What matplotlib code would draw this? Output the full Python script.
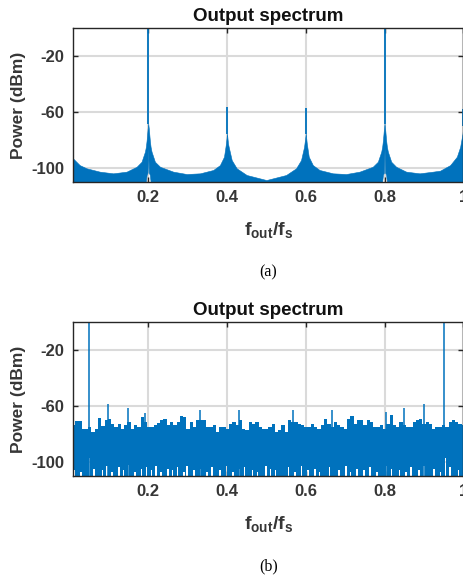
import numpy as np
import matplotlib
matplotlib.use("Agg")
import matplotlib.pyplot as plt

plt.rcParams['mathtext.fontset'] = 'custom'
plt.rcParams['mathtext.rm'] = 'Liberation Sans:bold'
plt.rcParams['mathtext.it'] = 'Liberation Sans:bold'
plt.rcParams['mathtext.bf'] = 'Liberation Sans:bold'

# ---------------- data ----------------
x_ticks = [0.2, 0.4, 0.6, 0.8, 1.0]
x_ticklabels = ['0.2', '0.4', '0.6', '0.8', '1']
y_ticks = [-100, -60, -20]
y_ticklabels = ['-100', '-60', '-20']
titles = ['Output spectrum', 'Output spectrum']
captions = ['(a)', '(b)']

# (a) leakage spectrum: envelope knots (normalized frequency, dBm)
a_freq = [0.009, 0.026, 0.0435, 0.077, 0.111, 0.145, 0.1705, 0.183, 0.1916, 0.194,
          0.196, 0.1985, 0.2, 0.2015, 0.204, 0.206, 0.2085, 0.217, 0.23, 0.2635,
          0.2976, 0.3314, 0.365, 0.382, 0.3924, 0.3974, 0.4, 0.4026, 0.4043, 0.412,
          0.4246, 0.45, 0.5, 0.55, 0.5754, 0.588, 0.5957, 0.6, 0.6026, 0.6076,
          0.618, 0.635, 0.669, 0.7024, 0.7365, 0.77, 0.783, 0.7916, 0.794, 0.796,
          0.7985, 0.8, 0.8015, 0.804, 0.806, 0.8085, 0.817, 0.8295, 0.855, 0.889,
          0.923, 0.941, 0.9666, 0.9836, 0.992, 0.998, 1.0]
a_upper = [-93.3, -98.1, -100.4, -102.8, -104.0, -102.8, -99.3, -95.7, -88.5, -85.0,
           -80.2, -72.0, -68.3, -72.0, -80.2, -85.0, -88.5, -95.7, -99.3, -102.8,
           -104.5, -104.0, -101.6, -98.1, -92.1, -82.6, -75.5, -82.6, -85.0, -94.5,
           -100.4, -105.2, -108.8, -105.2, -100.4, -94.5, -85.0, -75.5, -82.6, -92.1,
           -98.1, -101.6, -104.0, -104.5, -102.8, -99.3, -95.7, -88.5, -85.0, -80.2,
           -72.0, -68.3, -72.0, -80.2, -85.0, -88.5, -95.7, -99.3, -102.8, -104.0,
           -102.8, -102.1, -98.1, -92.1, -85.0, -75.5, -70.0]
a_lower = [-110, -110, -110, -110, -110, -110, -110, -110, -110, -110,
           -105, -103.5, -86, -103.5, -105, -110, -110, -110, -110, -110,
           -110, -110, -110, -110, -110, -110, -110, -110, -110, -110,
           -110, -110, -110, -110, -110, -110, -110, -110, -110, -110,
           -110, -110, -110, -110, -110, -110, -110, -110, -110, -105,
           -103.5, -86, -103.5, -105, -110, -110, -110, -110, -110, -110,
           -110, -110, -110, -110, -110, -110, -110]
a_tone_freq = [0.2, 0.4, 0.6, 0.8, 1.0]
a_tone_base = [-68.3, -75.5, -75.5, -68.3, -70.0]
a_tone_peak = [0.0, -56.4, -56.9, 0.0, -57.6]

# (b) noisy spectrum: noise-floor top per frequency bin (dBm)
b_noise_top = [
    -73.9, -71.0, -71.0, -76.3, -76.3, -75.1, -78.7, -76.3, -68.6, -74.4,
    -70.3, -69.1, -72.7, -75.1, -72.7, -76.3, -73.9, -71.5, -76.3, -73.4,
    -75.1, -67.9, -71.5, -75.1, -75.1, -73.4, -72.0, -70.3, -69.6, -73.9,
    -71.5, -73.9, -71.5, -67.2, -67.9, -76.3, -71.5, -75.1, -70.3, -70.3,
    -70.3, -75.1, -75.1, -73.9, -78.7, -75.1, -75.1, -76.3, -72.7, -71.5,
    -73.9, -70.3, -76.3, -77.5, -71.5, -72.7, -71.5, -75.1, -76.3, -76.3,
    -75.1, -72.7, -78.7, -77.5, -73.9, -78.7, -70.3, -71.5, -71.5, -72.7,
    -73.9, -75.1, -75.1, -72.7, -75.1, -76.3, -73.9, -69.1, -72.7, -75.1,
    -71.5, -73.9, -75.1, -76.3, -69.1, -67.2, -72.7, -70.3, -70.3, -73.9,
    -70.3, -71.5, -75.1, -75.1, -73.9, -76.3, -72.7, -66.7, -73.9, -75.1,
    -71.5, -73.9, -75.1, -75.1, -71.5, -70.3, -69.1, -72.7, -71.5, -72.7,
    -76.3, -75.1, -75.1, -73.9, -75.1, -71.5, -70.3, -71.5, -72.7, -73.9]
# gaps at the bottom of the noise floor: frequency and lowest level reached
b_gap_freq = [0.014, 0.031, 0.050, 0.064, 0.085, 0.097, 0.110, 0.126, 0.139, 0.151,
              0.167, 0.184, 0.196, 0.209, 0.222, 0.234, 0.250, 0.262, 0.275, 0.290,
              0.300, 0.316, 0.333, 0.349, 0.363, 0.382, 0.398, 0.416, 0.430, 0.445,
              0.465, 0.479, 0.499, 0.512, 0.525, 0.557, 0.573, 0.589, 0.606, 0.622,
              0.636, 0.660, 0.684, 0.700, 0.715, 0.730, 0.748, 0.763, 0.780, 0.805,
              0.818, 0.838, 0.855, 0.868, 0.887, 0.900, 0.925, 0.941, 0.953, 0.965,
              0.987]
b_gap_level = [-106, -107, -97, -105, -106, -103, -107, -104, -106, -102,
               -107, -105, -104, -106, -103, -107, -105, -106, -104, -107,
               -103, -106, -105, -107, -104, -106, -103, -107, -105, -104,
               -106, -107, -103, -105, -106, -104, -107, -103, -106, -105,
               -107, -104, -106, -103, -107, -105, -106, -104, -107, -103,
               -105, -106, -107, -104, -106, -103, -105, -107, -97, -104,
               -106]
b_spur_freq = [0.0486, 0.0984, 0.148, 0.193, 0.287, 0.331, 0.430, 0.568, 0.666,
               0.803, 0.850, 0.900, 0.9506]
b_spur_level = [0.0, -58.3, -61.2, -65.0, -67.0, -62.6, -62.6, -62.6, -62.6,
                -64.3, -61.4, -58.3, 0.0]

# ---------------- style ----------------
BLUE = '#0072BD'
AX = '#262626'
LAB = '#363636'
X_MIN, X_MAX = 0.009, 1.0
Y_MIN, Y_MAX = -110, 0
SANS = 'Liberation Sans'

fig = plt.figure(figsize=(4.64, 5.78), dpi=100)
axA = fig.add_axes([73 / 464, 1 - 181.7 / 578, 390.3 / 464, 153.4 / 578])
axB = fig.add_axes([73 / 464, 1 - 475.7 / 578, 390.3 / 464, 153.4 / 578])


def style(ax, title, caption):
    ax.set_xlim(X_MIN, X_MAX)
    ax.set_ylim(Y_MIN, Y_MAX)
    ax.set_xticks(x_ticks)
    ax.set_xticklabels(x_ticklabels)
    ax.set_yticks(y_ticks)
    ax.set_yticklabels(y_ticklabels)
    ax.grid(True, color='#dadada', linewidth=1.5)
    ax.set_axisbelow(True)
    for s in ax.spines.values():
        s.set_color(AX)
        s.set_linewidth(1.0)
        s.set_zorder(5)
    ax.tick_params(direction='in', length=3.5, width=1.0, color=AX,
                   labelcolor=LAB, labelsize=12, top=True, right=True, pad=6)
    for lab in ax.get_xticklabels() + ax.get_yticklabels():
        lab.set_fontfamily(SANS)
        lab.set_fontweight('bold')
    ax.set_title(title, fontfamily=SANS, fontweight='bold', fontsize=13.5,
                 color='#111111', pad=5)
    ax.set_ylabel('Power (dBm)', fontfamily=SANS, fontweight='bold',
                  fontsize=12.5, color=LAB, labelpad=4)
    ax.set_xlabel(r'$f_{out}/f_s$', fontsize=14, color=LAB, labelpad=11)
    ax.text(0.5, -0.59, caption, transform=ax.transAxes, ha='center', va='center',
            fontfamily='Liberation Serif', fontsize=11.5, color='black')


# (a)
axA.fill_between(a_freq, a_lower, a_upper, color=BLUE, linewidth=0.4,
                 edgecolor=BLUE, zorder=2)
axA.vlines(a_tone_freq, a_tone_base, a_tone_peak, color=BLUE, linewidth=1.3,
           zorder=3)
style(axA, titles[0], captions[0])

# (b)
b_freq = np.linspace(X_MIN + 0.001, X_MAX, len(b_noise_top))
axB.fill_between(b_freq, -96, b_noise_top, step='mid', color=BLUE,
                 linewidth=0, zorder=2)
fine_freq = np.linspace(X_MIN, X_MAX, 240)
fine_bottom = np.full(fine_freq.size, float(Y_MIN))
for f, lv in zip(b_gap_freq, b_gap_level):
    fine_bottom[np.argmin(np.abs(fine_freq - f))] = lv
axB.fill_between(fine_freq, fine_bottom, -95, step='mid', color=BLUE,
                 linewidth=0, zorder=2)
axB.vlines(b_spur_freq, Y_MIN, b_spur_level, color=BLUE, linewidth=1.1, zorder=3)
style(axB, titles[1], captions[1])

fig.savefig('out.png', dpi=100)
